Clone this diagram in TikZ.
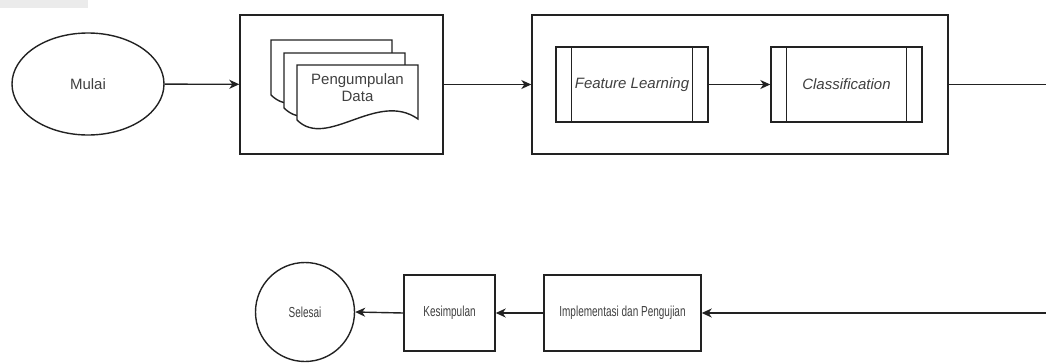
\documentclass[tikz,border=0pt]{standalone}
\usepackage{fontspec}
\setmainfont{Liberation Sans}
\newfontfamily\narrowsans[FakeStretch=0.69]{Liberation Sans}
\usetikzlibrary{shapes.geometric,arrows.meta}
\definecolor{ink}{HTML}{222222}
\definecolor{txt}{HTML}{404040}
\tikzset{
  base/.style={draw=ink, line width=1.4pt, fill=white, text=txt, font=\fontsize{15}{18}\selectfont, align=center, inner sep=0pt},
  lower/.style={font=\narrowsans\fontsize{14.5}{17}\selectfont},
  term/.style={base, ellipse},
  boxed/.style={base, rectangle},
  proc/.style={base, rectangle, path picture={
      \draw[ink, line width=1.4pt]
        ([xshift=15.5pt]path picture bounding box.north west) -- ([xshift=15.5pt]path picture bounding box.south west)
        ([xshift=-15.5pt]path picture bounding box.north east) -- ([xshift=-15.5pt]path picture bounding box.south east);}},
  flow/.style={draw=ink, line width=1.4pt, -{Stealth[length=10pt,width=9pt,inset=3pt]}},
  plain/.style={draw=ink, line width=1.4pt},
  docpage/.style={draw=ink, line width=1.4pt, fill=white}
}
\begin{document}
\begin{tikzpicture}[x=1pt, y=-1pt]
  \useasboundingbox (0,0) rectangle (1046,362);
  % page tab in the corner
  \fill[black!8] (0,0) rectangle (88,8);

  % top row
  \node[term, minimum width=152pt, minimum height=102pt] (mulai) at (88,84) {Mulai};
  \node[boxed, minimum width=203pt, minimum height=139pt] (box1) at (341.5,84.5) {};
  \node[boxed, minimum width=416pt, minimum height=139pt] (box2) at (740,84.5) {};
  \node[proc, minimum width=152pt, minimum height=75pt] (feat) at (632,84.5) {\itshape Feature Learning};
  \node[proc, minimum width=151pt, minimum height=75pt] (cls) at (846.5,84.5) {\itshape Classification};

  % stacked documents inside the first box
  \foreach \dx/\dy in {-26/-25, -13/-12, 0/0} {
    \begin{scope}[shift={(297+\dx,65+\dy)}]
      \path[docpage] (0,0) -- (121,0) -- (121,54)
        .. controls (80,25) and (30,85) .. (0,55) -- cycle;
    \end{scope}
  }
  \node[text=txt, font=\fontsize{15}{17}\selectfont, align=center] (data) at (357.5,88) {Pengumpulan\\Data};

  % bottom row
  \node[boxed, lower, minimum width=157pt, minimum height=76pt] (impl) at (622.5,313) {Implementasi dan Pengujian};
  \node[boxed, lower, minimum width=91pt, minimum height=76pt] (kes) at (449.5,313) {Kesimpulan};
  \node[base, lower, circle, minimum size=99pt] (selesai) at (305,312) {Selesai};

  \coordinate (outTop) at (1046,84.5);
  \coordinate (inBot) at (1046,313);

  % connectors
  \draw[flow] (mulai) -- (box1);
  \draw[flow] (box1.east) -- (box2.west);
  \draw[flow] (feat) -- (cls);
  \draw[plain] (box2.east) -- (outTop);
  \draw[flow] (inBot) -- (impl.east);
  \draw[flow] (impl) -- (kes);
  \draw[flow] (kes.west) -- (selesai.east);
\end{tikzpicture}
\end{document}
